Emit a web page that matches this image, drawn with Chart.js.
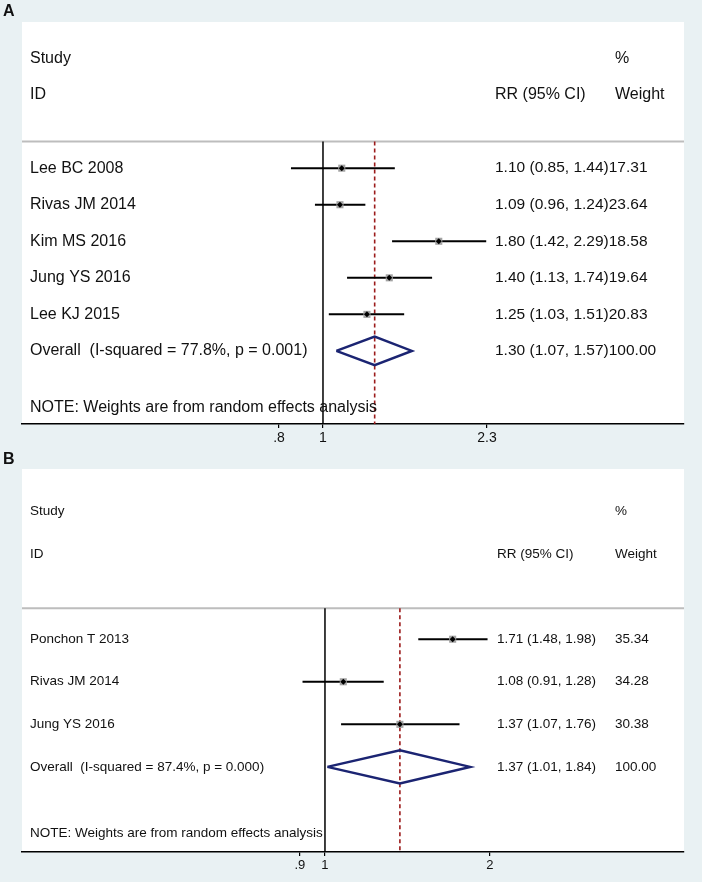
<!DOCTYPE html>
<html>
<head>
<meta charset="utf-8">
<script src="https://cdn.jsdelivr.net/npm/chart.js@4.4.1/dist/chart.umd.min.js"></script>
<style>
  body { margin: 0; background: #e9f1f3; width: 702px; height: 882px; position: relative; overflow: hidden;
         font-family: "Liberation Sans", Arial, sans-serif; }
  .tag { position: absolute; left: 3px; font-weight: bold; font-size: 16px; color: #111; z-index: 2; }
  canvas { position: absolute; left: 0; }
</style>
</head>
<body>
<div class="tag" style="top:2px">A</div>
<canvas id="chartA" width="702" height="455" style="top:0"></canvas>
<div class="tag" style="top:450px">B</div>
<canvas id="chartB" width="702" height="435" style="top:447px"></canvas>

<script>
// DATOS - panel A
const studiesA = ['Lee BC 2008', 'Rivas JM 2014', 'Kim MS 2016', 'Jung YS 2016', 'Lee KJ 2015'];
const rrA = [1.10, 1.09, 1.80, 1.40, 1.25];
const lowA = [0.85, 0.96, 1.42, 1.13, 1.03];
const highA = [1.44, 1.24, 2.29, 1.74, 1.51];
const weightA = ['17.31', '23.64', '18.58', '19.64', '20.83'];
const overallA = [1.30, 1.07, 1.57];   // estimate, low, high
const overallWeightA = '100.00';
const overallLabelA = 'Overall  (I-squared = 77.8%, p = 0.001)';
const ticksA = [0.8, 1, 2.3];
const tickLabelsA = ['.8', '1', '2.3'];

// DATOS - panel B
const studiesB = ['Ponchon T 2013', 'Rivas JM 2014', 'Jung YS 2016'];
const rrB = [1.71, 1.08, 1.37];
const lowB = [1.48, 0.91, 1.07];
const highB = [1.98, 1.28, 1.76];
const weightB = ['35.34', '34.28', '30.38'];
const overallB = [1.37, 1.01, 1.84];
const overallWeightB = '100.00';
const overallLabelB = 'Overall  (I-squared = 87.4%, p = 0.000)';
const ticksB = [0.9, 1, 2];
const tickLabelsB = ['.9', '1', '2'];

const noteText = 'NOTE: Weights are from random effects analysis';
const FONT = '"Liberation Sans", Arial, sans-serif';

function forestChart(id, p) {
  const rows = p.studies.map((s, i) => 4 + i);
  const oRow = 4 + p.studies.length;
  const yMax = oRow + 2;
  const divY = 3.27;
  const [oEst, oLo, oHi] = p.overall;

  const datasets = [];
  // marcador del estimado (encima de todo)
  datasets.push({ data: rows.map((r, i) => ({ x: p.rr[i], y: r })), pointStyle: 'rectRot', pointRadius: 3,
                  backgroundColor: '#000', borderWidth: 0 });
  // caja del peso
  datasets.push({ data: rows.map((r, i) => ({ x: p.rr[i], y: r })), pointStyle: 'rect', pointRadius: 5,
                  backgroundColor: '#a3a3a3', borderWidth: 0 });
  // intervalos de confianza
  rows.forEach((r, i) => {
    datasets.push({ data: [{ x: p.low[i], y: r }, { x: p.high[i], y: r }], showLine: true,
                    borderColor: '#000', borderWidth: 2, pointRadius: 0 });
  });
  // diamante del efecto global
  datasets.push({ data: [{ x: oLo, y: oRow }, { x: oEst, y: oRow - 0.39 }, { x: oHi, y: oRow },
                         { x: oEst, y: oRow + 0.39 }, { x: oLo, y: oRow }],
                  showLine: true, borderColor: '#1b2472', borderWidth: 2.5, pointRadius: 0,
                  borderJoinStyle: 'miter' });
  // linea punteada roja
  datasets.push({ data: [{ x: oEst, y: divY }, { x: oEst, y: yMax }], showLine: true,
                  borderColor: '#9b1b1b', borderDash: [4, 3], borderWidth: 1.6, pointRadius: 0 });
  // linea de no efecto
  datasets.push({ data: [{ x: 1, y: divY }, { x: 1, y: yMax }], showLine: true,
                  borderColor: '#000', borderWidth: 1.5, pointRadius: 0 });
  // separador gris
  datasets.push({ data: [{ x: p.xMin, y: divY }, { x: p.xMax, y: divY }], showLine: true,
                  borderColor: '#bdbdbd', borderWidth: 2, pointRadius: 0 });

  const panelBg = {
    id: 'panelBg',
    beforeDraw(chart) {
      const { ctx, chartArea: a } = chart;
      ctx.save();
      ctx.fillStyle = '#fff';
      ctx.fillRect(a.left, a.top, a.right - a.left, a.bottom - a.top);
      ctx.restore();
    }
  };

  const textos = {
    id: 'textos',
    afterDraw(chart) {
      const { ctx, chartArea: a, scales: { y } } = chart;
      const lx = a.left + 8, rx = a.left + p.rrX, wx = a.left + p.wtX;
      const big = p.fontSize + 'px ' + FONT;
      const small = p.rrFont + 'px ' + FONT;
      ctx.save();
      ctx.fillStyle = '#111';
      ctx.textBaseline = 'middle';
      ctx.font = big;
      ctx.fillText('Study', lx, y.getPixelForValue(1));
      ctx.fillText('%', wx, y.getPixelForValue(1));
      ctx.fillText('ID', lx, y.getPixelForValue(2));
      ctx.fillText('RR (95% CI)', rx, y.getPixelForValue(2));
      ctx.fillText('Weight', wx, y.getPixelForValue(2));

      const fila = (label, est, lo, hi, w, row) => {
        const yy = y.getPixelForValue(row);
        ctx.font = big;
        ctx.fillText(label, lx, yy);
        const ci = `${est.toFixed(2)} (${lo.toFixed(2)}, ${hi.toFixed(2)})`;
        ctx.font = small;
        ctx.fillText(ci, rx, yy);
        const wX = p.joinWeight ? rx + ctx.measureText(ci).width : wx;
        ctx.fillText(w, wX, yy);
      };
      rows.forEach((r, i) => fila(p.studies[i], p.rr[i], p.low[i], p.high[i], p.weight[i], r));
      fila(p.overallLabel, oEst, oLo, oHi, p.overallWeight, oRow);

      ctx.font = big;
      ctx.fillText(noteText, lx, y.getPixelForValue(oRow + 1.55));
      ctx.restore();
    }
  };

  return new Chart(document.getElementById(id), {
    type: 'scatter',
    data: { datasets },
    options: {
      responsive: false,
      animation: false,
      events: [],
      layout: { padding: p.padding },
      plugins: { legend: { display: false }, tooltip: { enabled: false } },
      scales: {
        x: {
          type: 'logarithmic',
          bounds: 'data',
          min: p.xMin,
          max: p.xMax,
          afterBuildTicks: s => { s.ticks = p.ticks.map(v => ({ value: v })); },
          afterFit: s => { s.height = p.axisH; },
          ticks: {
            autoSkip: false, maxRotation: 0, padding: 2, color: '#111',
            font: { family: FONT, size: p.tickFont },
            callback: (v, i) => p.tickLabels[i]
          },
          grid: { drawOnChartArea: false, drawTicks: true, tickLength: 4, color: '#000', lineWidth: 1.2 },
          border: { display: true, color: '#000', width: 1.5 }
        },
        y: { type: 'linear', display: false, reverse: true, min: 0, max: yMax, bounds: 'data' }
      }
    },
    plugins: [panelBg, textos]
  });
}

forestChart('chartA', {
  studies: studiesA, rr: rrA, low: lowA, high: highA, weight: weightA,
  overall: overallA, overallWeight: overallWeightA, overallLabel: overallLabelA,
  ticks: ticksA, tickLabels: tickLabelsA,
  xMin: 0.217, xMax: 6.25,
  padding: { left: 22, right: 18, top: 22, bottom: 5 }, axisH: 26,
  fontSize: 16, rrFont: 15.5, tickFont: 14,
  rrX: 473, wtX: 593, joinWeight: true
});

forestChart('chartB', {
  studies: studiesB, rr: rrB, low: lowB, high: highB, weight: weightB,
  overall: overallB, overallWeight: overallWeightB, overallLabel: overallLabelB,
  ticks: ticksB, tickLabels: tickLabelsB,
  xMin: 0.280, xMax: 4.52,
  padding: { left: 22, right: 18, top: 22, bottom: 6 }, axisH: 24,
  fontSize: 13.5, rrFont: 13.5, tickFont: 13,
  rrX: 475, wtX: 593, joinWeight: false
});
</script>
</body>
</html>
